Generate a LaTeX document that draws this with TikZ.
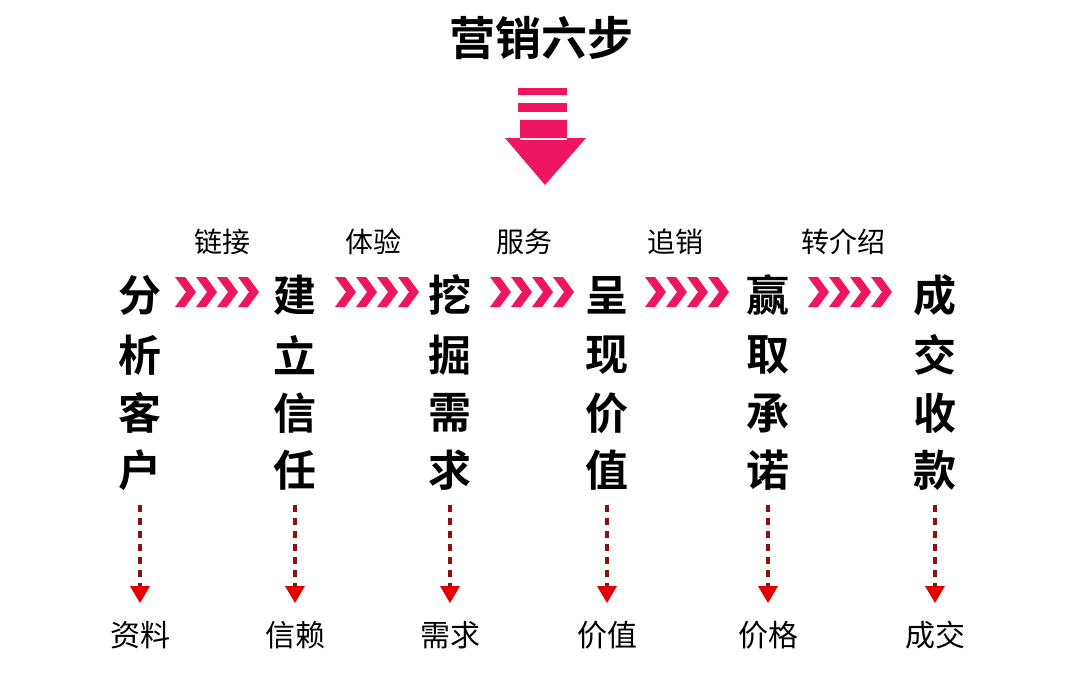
\documentclass[tikz,border=0pt]{standalone}
\usepackage{fontspec}
\newfontfamily\cjk{Noto Sans CJK SC}
\newfontfamily\cjkb{Noto Sans CJK SC Bold}
\definecolor{mag}{HTML}{EE1660}
\definecolor{dred}{HTML}{8B1010}
\begin{document}
\begin{tikzpicture}[x=1pt,y=-1pt,
  big/.style={font=\cjkb\fontsize{43}{46}\selectfont,inner sep=0pt},
  lab/.style={font=\cjk\fontsize{28}{30}\selectfont,inner sep=0pt},
  bot/.style={font=\cjk\fontsize{30}{32}\selectfont,inner sep=0pt}]
\fill[white] (0,0) rectangle (1080,685);
\node[font=\cjkb\fontsize{46}{50}\selectfont,inner sep=0pt] (title) at (541,38) {营销六步};
\fill[mag] (518,88) rectangle (567,95);
\fill[mag] (518,103) rectangle (567,112);
\fill[mag] (520,120) rectangle (567,140) (505,138) -- (586,138) -- (545,185) -- cycle;
\foreach \x/\a/\b/\c/\d [count=\i] in {140/分/析/客/户,295/建/立/信/任,450/挖/掘/需/求,607/呈/现/价/值,768/赢/取/承/诺,935/成/交/收/款}{
  \node[big] (c\i a) at (\x,295) {\a};
  \node[big] (c\i b) at (\x,355) {\b};
  \node[big] (c\i c) at (\x,413) {\c};
  \node[big] (c\i d) at (\x,470) {\d};
  \coordinate (s\i) at (\x,505);
  \coordinate (e\i) at (\x,603);
  \draw[dred,line width=3.5pt,dash pattern=on 7pt off 6pt] (s\i) -- ([yshift=16pt]e\i);
  \fill[red!90!black] ([xshift=-10pt,yshift=17pt]e\i) -- ([xshift=10pt,yshift=17pt]e\i) -- (e\i) -- cycle;
}
\foreach \x/\l in {140/资料,295/信赖,450/需求,607/价值,768/价格,935/成交}
  \node[bot] at (\x,635) {\l};
\foreach \x/\m/\l in {175/222/链接,335/373/体验,490/524/服务,645/675/追销,808/843/转介绍}{
  \node[lab] at (\m,242) {\l};
  \foreach \k in {0,1,2,3}
    \fill[mag] (\x+21*\k,277) -- ++(10,0) -- ++(11,15) -- ++(-11,15) -- ++(-10,0) -- ++(11,-15) -- cycle;
}
\end{tikzpicture}
\end{document}
